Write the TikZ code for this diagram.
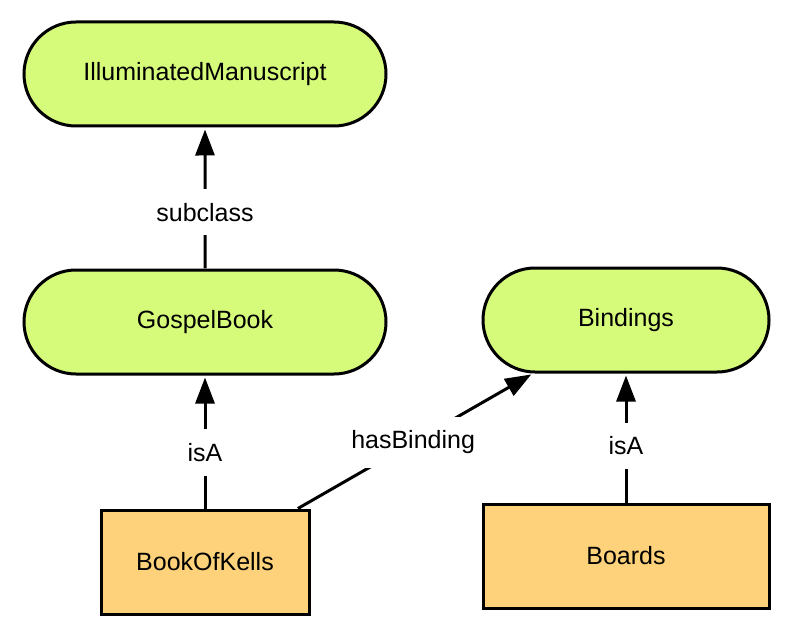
\documentclass[tikz,border=0pt]{standalone}
\usepackage{fontspec}
\setmainfont{Liberation Sans}
\usepackage{tikz}
\usetikzlibrary{shapes.misc}
\usetikzlibrary{arrows.meta}
\definecolor{classgreen}{RGB}{214,251,123}
\definecolor{instorange}{RGB}{253,210,122}
\tikzset{
  classbox/.style={shape=rounded rectangle,draw=black,fill=classgreen,line width=3pt,minimum height=104pt,inner sep=0pt},
  instbox/.style={shape=rectangle,draw=black,fill=instorange,line width=3pt,minimum height=104pt,inner sep=0pt},
  rel/.style={line width=3pt,-{Triangle[length=26pt,width=19pt]},shorten >=2pt},
  rellabel/.style={fill=white,inner xsep=4pt,inner ysep=14pt}
}
\newcommand{\classnode}[5]{\node[classbox,minimum width=#4pt] (#1) at ( #2 , #3 ) {#5};}
\newcommand{\instnode}[5]{\node[instbox,minimum width=#4pt] (#1) at ( #2 , #3 ) {#5};}
\newcommand{\relation}[4]{\draw[rel] (#1) -- node[rellabel,pos=#3] {#4} (#2);}
\begin{document}
\begin{tikzpicture}[x=1pt,y=-1pt,font=\fontsize{25}{29}\selectfont]
        \useasboundingbox (0,0) rectangle (791,639);
        % classes
        \classnode{illum}{205}{74}{362}{IlluminatedManuscript}
        \classnode{gospel}{205}{322}{362}{GospelBook}
        \classnode{bind}{626}{320}{286}{Bindings}
        % instances
        \instnode{kells}{205}{562}{208}{BookOfKells}
        \instnode{boards}{626}{556}{286}{Boards}
        % relations
        \relation{gospel}{illum}{0.4}{subclass}
        \relation{kells}{gospel}{0.42}{isA}
        \relation{kells}{bind}{0.49}{hasBinding}
        \relation{boards}{bind}{0.44}{isA}
    \end{tikzpicture}
\end{document}
